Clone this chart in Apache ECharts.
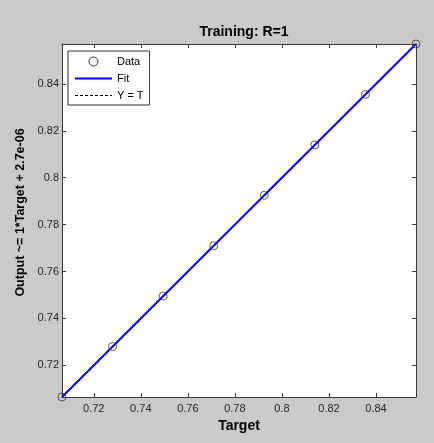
<!DOCTYPE html>
<html><head><meta charset="utf-8">
<script src="https://cdn.jsdelivr.net/npm/echarts@6/dist/echarts.min.js"></script>
<style>html,body{margin:0;padding:0;background:#cacaca;}#c{width:434px;height:443px;}</style>
</head><body><div id="c"></div>
<script>
var titleText = 'Training: R=1';
var xLabel = 'Target';
var yLabel = 'Output ~= 1*Target + 2.7e-06';
var targets = [0.7065, 0.7280, 0.7495, 0.7710, 0.7925, 0.8140, 0.8355, 0.8570];
var outputs = [0.7065, 0.7280, 0.7495, 0.7710, 0.7925, 0.8140, 0.8355, 0.8570];
var fitSlope = 1;
var fitIntercept = 2.7e-06;
var axisMin = 0.7065;
var axisMax = 0.8570;

var dataPts = targets.map(function(t, i){ return [t, outputs[i]]; });
var fitPts = [[axisMin, fitSlope*axisMin + fitIntercept], [axisMax, fitSlope*axisMax + fitIntercept]];
var ytPts = [[axisMin, axisMin], [axisMax, axisMax]];

var font = 'Liberation Sans, Arial, sans-serif';
var lineCol = '#3a3a3a';
function ax(pos, showLabels, margin, extra) {
  var o = {
    type: 'value', position: pos, min: axisMin, max: axisMax, splitNumber: 7, scale: true,
    axisLine: { show: true, onZero: false, lineStyle: { color: lineCol, width: 1 } },
    axisTick: { show: true, inside: true, length: 4, lineStyle: { color: lineCol } },
    splitLine: { show: false },
    axisLabel: { show: showLabels, showMinLabel: false, showMaxLabel: false,
      color: '#262626', fontSize: 11, fontFamily: font, margin: margin }
  };
  for (var k in extra) o[k] = extra[k];
  return o;
}
var chart = echarts.init(document.getElementById('c'), null, { renderer: 'canvas' });
chart.setOption({
  animation: false,
  backgroundColor: '#cacaca',
  title: { text: titleText, left: 239, textAlign: 'center', top: 20,
    textStyle: { fontSize: 14, fontWeight: 'bold', fontFamily: font, color: '#000' } },
  grid: { left: 62, right: 18, top: 44, bottom: 46, show: true, backgroundColor: '#ffffff', borderWidth: 0 },
  xAxis: [
    ax('bottom', true, 6, { name: xLabel, nameLocation: 'middle', nameGap: 21,
      nameTextStyle: { fontSize: 14, fontWeight: 'bold', fontFamily: font, color: '#000' } }),
    ax('top', false, 6, {})
  ],
  yAxis: [
    ax('left', true, 3, { name: yLabel, nameLocation: 'middle', nameGap: 29,
      nameTextStyle: { fontSize: 12.5, fontWeight: 'bold', fontFamily: font, color: '#000', padding: [0, 0, 0, 16] } }),
    ax('right', false, 3, {})
  ],
  legend: {
    orient: 'vertical', left: 68, top: 51, padding: [5, 6, 4, 6], itemGap: 6,
    itemWidth: 37, itemHeight: 9,
    backgroundColor: '#fff', borderColor: '#333', borderWidth: 1, borderRadius: 0,
    textStyle: { fontSize: 11, fontFamily: font, color: '#000' },
    data: [
      { name: 'Data', icon: 'circle', itemStyle: { color: 'transparent', borderColor: '#000', borderWidth: 1 } },
      { name: 'Fit', itemStyle: { opacity: 0 } },
      { name: 'Y = T', itemStyle: { opacity: 0 }, lineStyle: { width: 1 } }
    ]
  },
  series: [
    { name: 'Y = T', type: 'line', data: ytPts, symbol: 'none', silent: true,
      lineStyle: { color: '#000', width: 1, type: [3, 2] }, z: 1 },
    { name: 'Fit', type: 'line', data: fitPts, symbol: 'none', silent: true,
      lineStyle: { color: '#0000ff', width: 2 }, z: 2 },
    { name: 'Data', type: 'scatter', data: dataPts, symbol: 'circle', symbolSize: 8, clip: false,
      itemStyle: { color: 'transparent', borderColor: '#333', borderWidth: 1 }, z: 3 }
  ]
});
</script></body></html>
